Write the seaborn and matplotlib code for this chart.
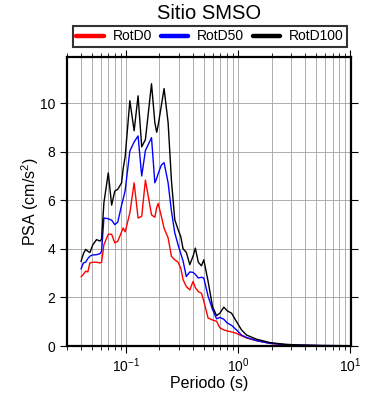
import numpy as np
import pandas as pd
import matplotlib
matplotlib.use("Agg")
import matplotlib.pyplot as plt
import seaborn as sns
from matplotlib.lines import Line2D
from matplotlib.ticker import LogLocator, NullFormatter, MultipleLocator

# periods (s) and spectral accelerations
periods = [0.040, 0.042, 0.044, 0.046, 0.048, 0.051, 0.055, 0.059, 0.061, 0.064,
           0.070, 0.075, 0.080, 0.085, 0.092, 0.095, 0.099, 0.109, 0.119, 0.129,
           0.139, 0.150, 0.170, 0.182, 0.189, 0.195, 0.208, 0.220, 0.239, 0.256,
           0.274, 0.293, 0.310, 0.325, 0.347, 0.373, 0.399, 0.418, 0.444, 0.474,
           0.497, 0.543, 0.595, 0.646, 0.691, 0.750, 0.803, 0.879, 0.974, 1.079,
           1.196, 1.469, 1.931, 2.628, 3.578, 5.397, 10.0]

rotd0 = [2.85, 2.95, 3.08, 3.05, 3.42, 3.45, 3.45, 3.42, 3.45, 4.17,
         4.60, 4.60, 4.25, 4.31, 4.70, 4.86, 4.70, 5.48, 6.72, 5.27,
         5.34, 6.83, 5.40, 5.30, 5.70, 5.87, 5.34, 4.85, 4.45, 3.69,
         3.55, 3.45, 3.20, 2.73, 2.45, 2.31, 2.66, 2.40, 2.24, 2.17,
         1.85, 1.15, 1.07, 1.02, 0.75, 0.66, 0.62, 0.58, 0.52, 0.42,
         0.33, 0.22, 0.11, 0.05, 0.03, 0.015, 0.008]

rotd50 = [3.17, 3.42, 3.45, 3.60, 3.70, 3.75, 3.76, 3.80, 3.90, 5.27,
          5.24, 5.18, 5.00, 5.10, 5.80, 6.05, 6.40, 8.03, 8.40, 8.65,
          7.00, 8.05, 8.58, 6.72, 6.90, 7.10, 7.45, 7.55, 6.72, 5.55,
          4.66, 4.17, 3.80, 3.50, 2.86, 3.05, 3.03, 2.95, 2.80, 2.83,
          2.80, 2.05, 1.50, 1.12, 1.18, 1.10, 0.95, 0.85, 0.66, 0.45,
          0.35, 0.22, 0.11, 0.06, 0.035, 0.02, 0.01]

rotd100 = [3.48, 3.80, 3.98, 3.90, 3.85, 4.17, 4.38, 4.32, 4.40, 5.90,
           7.13, 5.80, 6.38, 6.45, 6.72, 7.30, 7.80, 10.1, 8.86, 10.3,
           8.20, 8.50, 10.8, 9.20, 8.80, 9.10, 9.90, 10.6, 9.20, 6.80,
           5.20, 4.80, 4.50, 4.00, 3.86, 3.35, 3.70, 4.03, 3.45, 3.30,
           3.55, 2.66, 1.62, 1.25, 1.35, 1.60, 1.45, 1.35, 1.00, 0.66,
           0.45, 0.28, 0.14, 0.07, 0.04, 0.02, 0.012]

names = ["RotD0", "RotD50", "RotD100"]
colors = {"RotD0": "red", "RotD50": "blue", "RotD100": "black"}

df = pd.concat([
    pd.DataFrame({"Periodo": periods, "PSA": vals, "comp": name})
    for name, vals in zip(names, [rotd0, rotd50, rotd100])
])

sns.set_style("white")
plt.rcParams["font.family"] = ["Liberation Sans", "DejaVu Sans"]
plt.rcParams["mathtext.fontset"] = "custom"
plt.rcParams["mathtext.rm"] = "Liberation Sans"
plt.rcParams["mathtext.it"] = "Liberation Sans:italic"
for k in ["text.color", "axes.labelcolor", "xtick.color", "ytick.color"]:
    plt.rcParams[k] = "black"

fig = plt.figure(figsize=(3.9, 4.0), dpi=100)
ax = fig.add_axes([67 / 390, 1 - 346 / 400, 284 / 390, 289 / 400])

sns.lineplot(data=df, x="Periodo", y="PSA", hue="comp", palette=colors,
             hue_order=names, linewidth=1.0, legend=False, ax=ax)

ax.set_xscale("log")
ax.set_xlim(0.03, 10.2)
ax.set_ylim(0, 11.9)

ax.xaxis.set_major_locator(LogLocator(base=10, numticks=10))
ax.xaxis.set_minor_locator(LogLocator(base=10, subs=np.arange(2, 10), numticks=100))
ax.xaxis.set_minor_formatter(NullFormatter())
ax.yaxis.set_major_locator(MultipleLocator(2))

ax.grid(True, which="major", color="#a0a0a0", linewidth=0.6)
ax.grid(True, which="minor", axis="x", color="#a0a0a0", linewidth=0.6)
ax.set_axisbelow(True)

for s in ax.spines.values():
    s.set_linewidth(1.6)
    s.set_color("black")

ax.tick_params(which="both", direction="out", top=True, right=True, bottom=True,
               left=True, labeltop=False, labelright=False, color="black",
               labelcolor="black")
ax.tick_params(which="major", length=5, width=0.8, labelsize=10)
ax.tick_params(axis="x", which="major", pad=2.5)
ax.tick_params(axis="x", which="minor", length=3, width=0.6)

ax.set_xlabel("Periodo (s)", fontsize=11.5, labelpad=1)
ax.set_ylabel("PSA (cm/s$^2$)", fontsize=11.5)
ax.yaxis.set_label_coords(-0.09, 0.5)

ax.text(0.5, 1.133, "Sitio SMSO", transform=ax.transAxes, ha="center",
        va="baseline", fontsize=14.5)

handles = [Line2D([], [], color=colors[n], linewidth=3.2) for n in names]
leg = ax.legend(handles, names, loc="lower left", ncol=3, mode="expand",
                bbox_to_anchor=(0.021, 1.035, 0.965, 0.06), borderaxespad=0,
                fontsize=10, handlelength=2.0, handletextpad=0.6,
                borderpad=0.25, fancybox=False, frameon=True)
leg.get_frame().set_edgecolor("black")
leg.get_frame().set_linewidth(1.5)

fig.savefig("out.png", dpi=100)
